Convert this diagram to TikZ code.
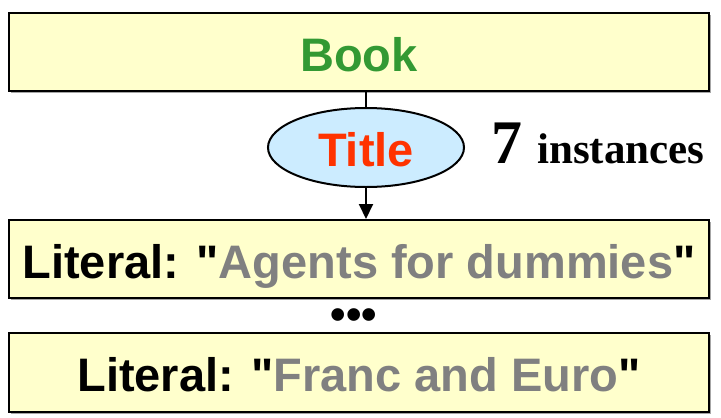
\documentclass[tikz,border=0pt]{standalone}
\usepackage{fontspec}
\setmainfont{Liberation Sans}
\newfontfamily\timesfont{Liberation Serif}
\usetikzlibrary{shapes.geometric,arrows.meta,shadows}

\definecolor{boxfill}{RGB}{255,255,204}
\definecolor{ellfill}{RGB}{204,236,255}
\definecolor{bookgreen}{RGB}{51,153,51}
\definecolor{titlered}{RGB}{255,51,0}
\definecolor{litgray}{RGB}{128,128,128}

\tikzset{
  cls/.style={draw,line width=2pt,fill=boxfill,minimum width=700pt,
    inner sep=0pt,text height=38pt,text depth=0pt,
    font=\fontsize{47}{50}\selectfont\bfseries,
    drop shadow={shadow xshift=2pt,shadow yshift=-2pt,opacity=.35,fill=black}},
  prop/.style={draw,ellipse,line width=2pt,fill=ellfill,minimum width=196pt,
    minimum height=79pt,inner sep=0pt,text height=38pt,text depth=0pt,
    font=\fontsize{47}{50}\selectfont\bfseries,text=titlered}
}

\begin{document}
\begin{tikzpicture}[x=1pt,y=-1pt]

\useasboundingbox (0,0) rectangle (721,418);

%\tikzstyle{every node}+=[font=\bfseries]

\node[cls,minimum height=78pt,text=bookgreen] (B) at (359,52) {Book};
\node[prop] (T) at (366,147.5) {Title};
\node[cls,minimum height=78pt] (L1) at (359,259)
  {Literal: \textquotedbl\textcolor{litgray}{Agents for dummies}\textquotedbl};
\node[cls,minimum height=79pt] (L2) at (359,372.5)
  {Literal: \textquotedbl\textcolor{litgray}{Franc and Euro}\textquotedbl};
\node[font=\fontsize{44}{44}\selectfont\bfseries,inner sep=0pt] (D) at (354,319)
  {\textbullet\textbullet\textbullet};
\node[anchor=base west,inner sep=0pt,font=\timesfont\bfseries] (N) at (491,163)
  {\fontsize{62}{62}\selectfont 7\hspace{15pt}\fontsize{43}{43}\selectfont instances};

\draw[line width=2pt] (B.south -| T.north) -- (T.north);
\draw[line width=2pt,-{Triangle[length=15pt,width=14pt]}] (T.south) -- (T.south |- L1.north);

\end{tikzpicture}
\end{document}
